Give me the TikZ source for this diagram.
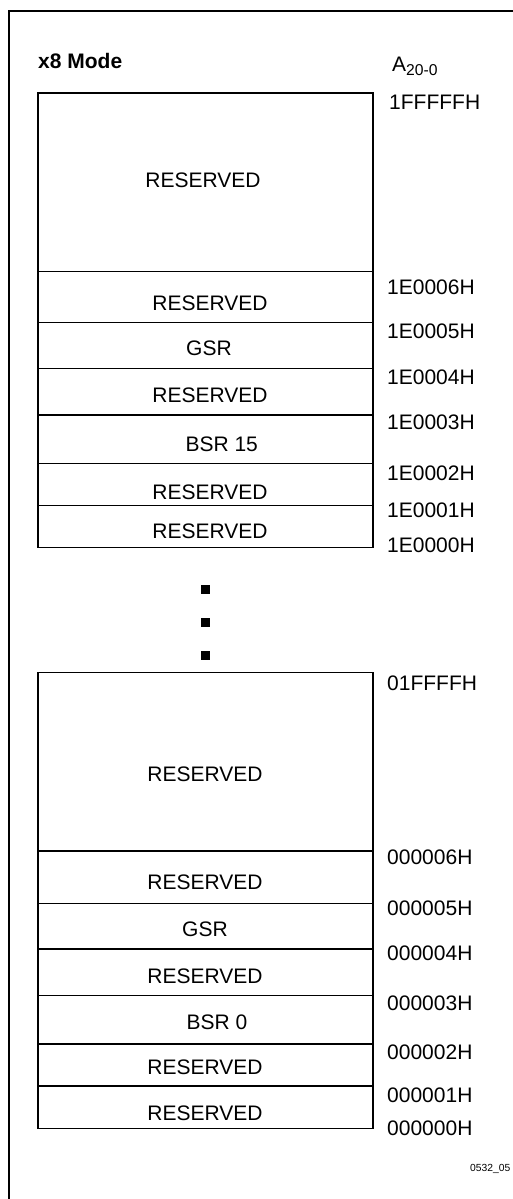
\documentclass[tikz,border=0pt]{standalone}
\usepackage{fontspec}
\setmainfont{Liberation Sans}
\begin{document}
\begin{tikzpicture}[x=1pt,y=-1pt,
  cell/.style={draw=black,line width=1.3pt},
  lbl/.style={inner sep=0pt,anchor=base,font=\fontsize{21}{25}\selectfont},
  addr/.style={inner sep=0pt,anchor=base west,font=\fontsize{21}{25}\selectfont},
  dotsq/.style={fill=black,draw=none,minimum size=9pt,inner sep=0pt}]
\useasboundingbox (0,0) rectangle (513,1199);
% outer frame
\draw[line width=2pt] (9,1199) -- (9,11) -- (513,11);
% title
\node[addr,font=\fontsize{21}{25}\selectfont\bfseries] (title) at (38,69) {x8 Mode};
\node[addr] (abus) at (392,71.7) {A\raisebox{-4.3pt}{\fontsize{15.7}{18}\selectfont 20-0}};
% upper block
\draw[cell] (38,93) rectangle (373,271.5);
\draw[cell] (38,271.5) rectangle (373,322.3);
\draw[cell] (38,322.3) rectangle (373,368.3);
\draw[cell] (38,368.3) rectangle (373,415);
\draw[cell] (38,415) rectangle (373,463.3);
\draw[cell] (38,463.3) rectangle (373,505.7);
\draw[cell] (38,505.7) rectangle (373,547.3);
\node[lbl] (u0) at (203,187.5) {RESERVED};
\node[lbl] (u1) at (210,310.8) {RESERVED};
\node[lbl] (u2) at (209,355.5) {GSR};
\node[lbl] (u3) at (210,402.5) {RESERVED};
\node[lbl] (u4) at (221.7,451.5) {BSR 15};
\node[lbl] (u5) at (210,499.2) {RESERVED};
\node[lbl] (u6) at (210,538.2) {RESERVED};
\node[addr] (a1) at (389,109.2) {1FFFFFH};
\node[addr] (a2) at (387,294.2) {1E0006H};
\node[addr] (a3) at (387,338.5) {1E0005H};
\node[addr] (a4) at (387,384.2) {1E0004H};
\node[addr] (a5) at (387,429.2) {1E0003H};
\node[addr] (a6) at (387,480.8) {1E0002H};
\node[addr] (a7) at (387,517.5) {1E0001H};
\node[addr] (a8) at (387,552.5) {1E0000H};
% dots
\node[dotsq] (d1) at (205,589.3) {};
\node[dotsq] (d2) at (205,622.3) {};
\node[dotsq] (d3) at (205,655.3) {};
% lower block
\draw[cell] (38,672.7) rectangle (373,851);
\draw[cell] (38,851) rectangle (373,903.3);
\draw[cell] (38,903.3) rectangle (373,949);
\draw[cell] (38,949) rectangle (373,995.7);
\draw[cell] (38,995.7) rectangle (373,1044);
\draw[cell] (38,1044) rectangle (373,1086);
\draw[cell] (38,1086) rectangle (373,1128.7);
\node[lbl] (l0) at (205,781.8) {RESERVED};
\node[lbl] (l1) at (205,889.8) {RESERVED};
\node[lbl] (l2) at (205,936.8) {GSR};
\node[lbl] (l3) at (205,983.5) {RESERVED};
\node[lbl] (l4) at (217,1029.2) {BSR 0};
\node[lbl] (l5) at (205,1074.8) {RESERVED};
\node[lbl] (l6) at (205,1120.8) {RESERVED};
\node[addr] (b1) at (387,690.8) {01FFFFH};
\node[addr] (b2) at (387,864.2) {000006H};
\node[addr] (b3) at (387,915.2) {000005H};
\node[addr] (b4) at (387,960.2) {000004H};
\node[addr] (b5) at (387,1010.2) {000003H};
\node[addr] (b6) at (387,1059.2) {000002H};
\node[addr] (b7) at (387,1102.5) {000001H};
\node[addr] (b8) at (387,1135.8) {000000H};
\node[inner sep=0pt,anchor=base west,font=\fontsize{10.3}{12}\selectfont] (fig) at (470,1171) {0532\_05};
\end{tikzpicture}
\end{document}
